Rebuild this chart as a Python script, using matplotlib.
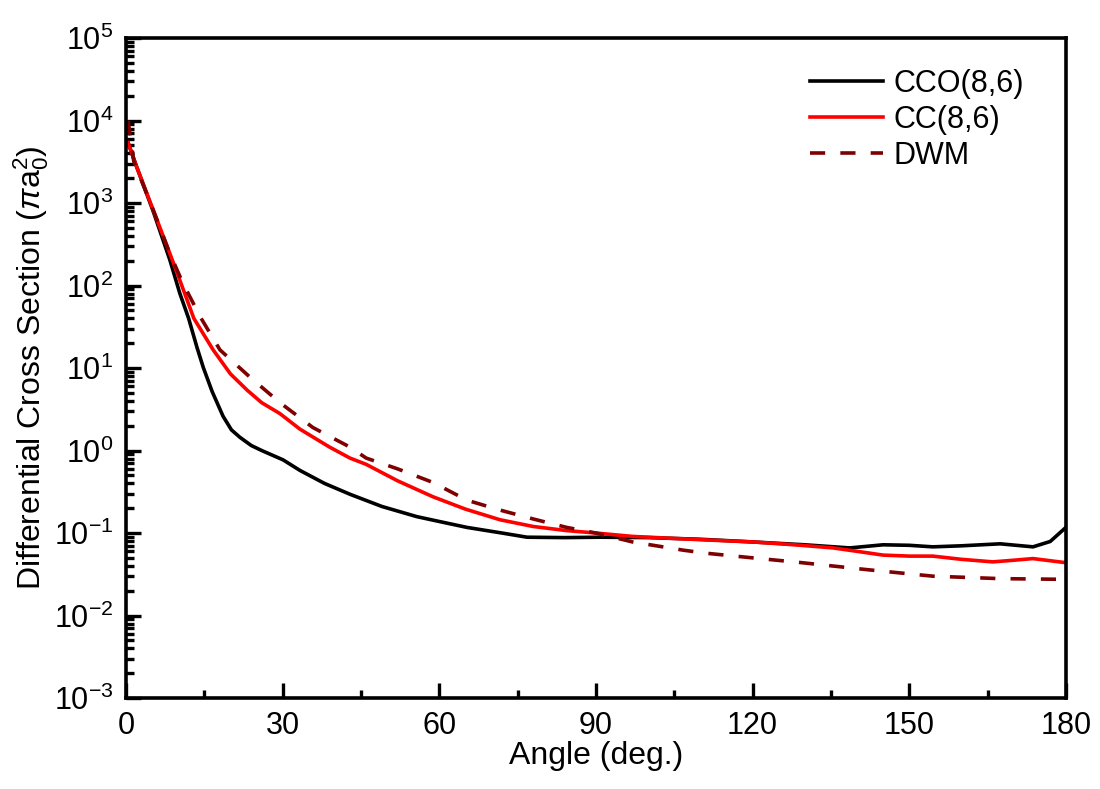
import matplotlib
matplotlib.use("Agg")

import matplotlib.pyplot as plt
from matplotlib.ticker import MultipleLocator, LogLocator, LogFormatterMathtext

plt.rcParams["font.family"] = ["Liberation Sans", "DejaVu Sans"]
plt.rcParams["mathtext.fontset"] = "custom"
plt.rcParams["mathtext.rm"] = "Liberation Sans"
plt.rcParams["mathtext.it"] = "Liberation Sans:italic"
plt.rcParams["mathtext.default"] = "regular"

# CCO(8,6)
angle_cco = [0.4, 2, 5.2, 8.4, 10.3, 12, 13.6, 14.8, 16.5, 18.6, 20.2, 21.8, 24, 26,
             30.1, 33.3, 38, 42.9, 49, 55.7, 60, 65.3, 72, 76.8, 84, 90.8, 100, 110,
             120, 130, 138.6, 145, 150, 154.5, 160, 167.4, 173.7, 177, 180]
dcs_cco = [5400, 2800, 800, 205, 81, 40, 17.8, 10.2, 5.2, 2.6, 1.78, 1.45, 1.15, 1.0,
           0.77, 0.575, 0.40, 0.295, 0.21, 0.158, 0.138, 0.117, 0.1, 0.089, 0.088,
           0.089, 0.088, 0.084, 0.078, 0.072, 0.066, 0.072, 0.071, 0.068, 0.07, 0.074,
           0.068, 0.079, 0.117]

# CC(8,6)
angle_cc = [0.4, 2, 5.2, 8.4, 10.3, 13, 16.7, 20, 23.2, 26, 29.5, 33.3, 39, 42.9, 46,
            52, 58.8, 65, 71.6, 78, 84.4, 90, 97, 110, 120, 128, 135.4, 140, 145, 150,
            154.5, 160, 166, 170, 173.7, 180]
dcs_cc = [5400, 2800, 830, 245, 117, 40, 16.6, 8.5, 5.4, 3.8, 2.8, 1.82, 1.1, 0.81,
          0.68, 0.43, 0.275, 0.195, 0.145, 0.12, 0.107, 0.1, 0.091, 0.083, 0.078,
          0.072, 0.066, 0.06, 0.054, 0.0525, 0.0525, 0.048, 0.0447, 0.0468, 0.049,
          0.0437]

# DWM
angle_dwm = [0.4, 1.5, 5.2, 8.4, 10.9, 14.2, 18, 23.7, 29.5, 35.8, 42.9, 46, 52, 58.8,
             65.3, 71.6, 78, 84.4, 90, 97, 106.7, 111, 120, 129, 141.9, 154.5, 167.4,
             179]
dcs_dwm = [10000, 3200, 830, 245, 107, 42, 16.6, 7.8, 3.8, 1.9, 1.1, 0.81, 0.6, 0.41,
           0.25, 0.19, 0.148, 0.117, 0.1, 0.078, 0.062, 0.057, 0.05, 0.044, 0.036,
           0.030, 0.028, 0.0275]

fig = plt.figure(figsize=(11, 7.89), dpi=100)
ax = fig.add_axes([0.1145, 0.1153, 0.8545, 0.8365])

ax.plot(angle_cco, dcs_cco, color="black", lw=2.6, label="CCO(8,6)")
ax.plot(angle_cc, dcs_cc, color="#ff0000", lw=2.6, label="CC(8,6)")
ax.plot(angle_dwm, dcs_dwm, color="#7f0000", lw=2.6, linestyle=(0, (4.2, 4.2)), label="DWM")

ax.set_yscale("log")
ax.set_xlim(0, 180)
ax.set_ylim(1e-3, 1e5)
ax.xaxis.set_major_locator(MultipleLocator(30))
ax.xaxis.set_minor_locator(MultipleLocator(15))
ax.yaxis.set_major_locator(LogLocator(base=10, numticks=20))
ax.yaxis.set_minor_locator(LogLocator(base=10, subs=range(2, 10), numticks=20))
ax.yaxis.set_major_formatter(LogFormatterMathtext())

for s in ax.spines.values():
    s.set_linewidth(2.6)
ax.tick_params(which="both", direction="in", width=2.4, labelsize=22,
               top=False, right=False)
ax.tick_params(which="major", length=11, pad=9)
ax.tick_params(which="minor", length=5.5)

ax.set_xlabel("Angle (deg.)", fontsize=23, labelpad=0)
ax.set_ylabel(r"Differential Cross Section ($\mathit{\pi}$a$_0^2$)", fontsize=23, labelpad=2)

ax.legend(loc="upper right", frameon=False, fontsize=22, handlelength=2.4,
          handletextpad=0.35, labelspacing=0.2, bbox_to_anchor=(0.985, 0.995))

fig.savefig("out.png", dpi=100)
